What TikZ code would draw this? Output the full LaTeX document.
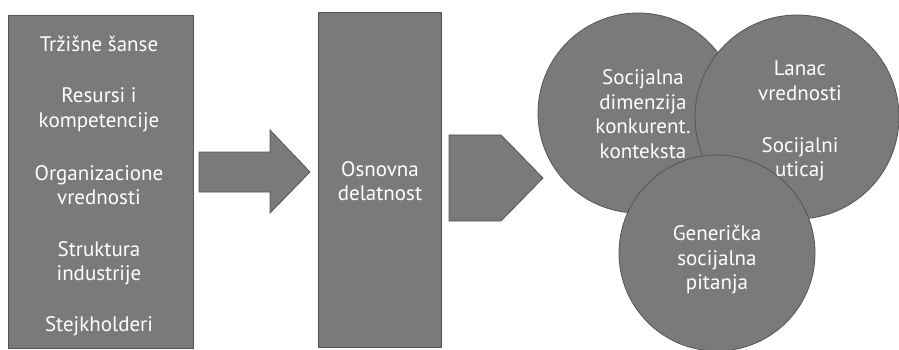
\documentclass[tikz,border=0pt]{standalone}
\usepackage{fontspec}
\setmainfont{PT Sans}
\definecolor{shapefill}{HTML}{7A7A7A}
\definecolor{shapeline}{HTML}{555555}
\begin{document}
\begin{tikzpicture}[x=1pt,y=-1pt,
  shapestyle/.style={fill=shapefill,draw=shapeline,line width=0.8pt},
  boxstyle/.style={shapestyle,rectangle,inner sep=0pt},
  circstyle/.style={shapestyle,circle,inner sep=0pt},
  lbl/.style={text=white,align=center,font=\fontsize{21}{24.5}\selectfont,inner sep=0pt}]
\useasboundingbox (0,0) rectangle (899,350);
% left box
\node[boxstyle,minimum width=185pt,minimum height=333pt] (ext) at (100.5,181.5) {};
\node[lbl] (t1) at (99,44) {Tržišne šanse};
\node[lbl] (t2) at (99,110) {Resursi i\\kompetencije};
\node[lbl] (t3) at (99,185) {Organizacione\\vrednosti};
\node[lbl] (t4) at (99,263) {Struktura\\industrije};
\node[lbl] (t5) at (99,326) {Stejkholderi};
% arrow 1
\draw[shapestyle] (199,152) -- (270,152) -- (270,130) -- (310,172) -- (270,213) -- (270,192) -- (199,192) -- cycle;
% middle box
\node[boxstyle,minimum width=123pt,minimum height=335pt] (core) at (379.5,179.5) {};
\node[lbl] (t6) at (380,181) {Osnovna\\delatnost};
% pentagon arrow
\draw[shapestyle] (449,135) -- (501,135) -- (543,178) -- (501,221) -- (449,221) -- cycle;
% circles
\node[circstyle,minimum size=200pt] (c1) at (638,113) {};
\node[circstyle,minimum size=204pt] (c2) at (797,117) {};
\node[circstyle,minimum size=196pt] (c3) at (717,253) {};
\node[lbl] (t7) at (643,114) {Socijalna\\dimenzija\\konkurent.\\konteksta};
\node[lbl] (t8) at (800,81) {Lanac\\vrednosti};
\node[lbl] (t9) at (800,159) {Socijalni\\uticaj};
\node[lbl] (t10) at (717,260) {Generička\\socijalna\\pitanja};
\end{tikzpicture}
\end{document}
